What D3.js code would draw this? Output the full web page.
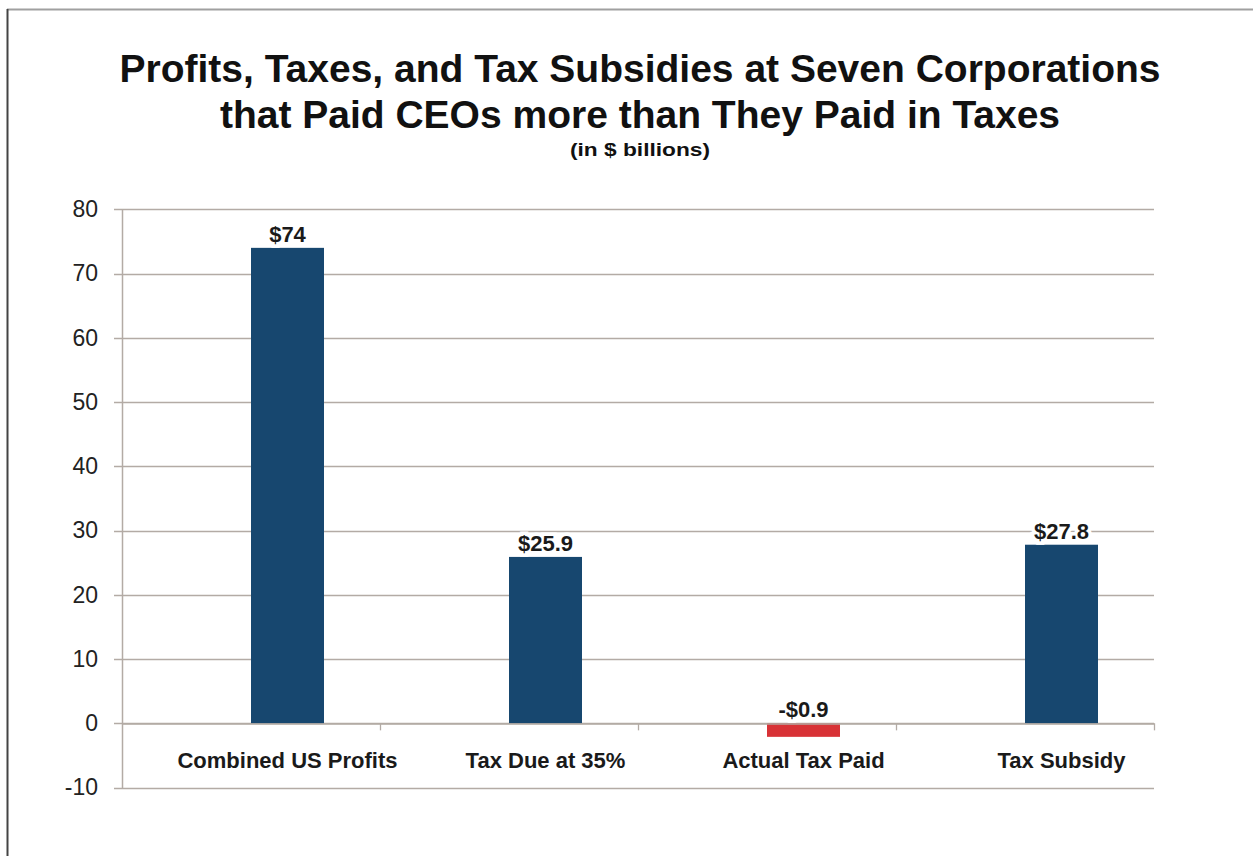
<!DOCTYPE html>
<html>
<head>
<meta charset="utf-8">
<script src="https://cdn.jsdelivr.net/npm/d3@7"></script>
<style>
html,body{margin:0;padding:0;background:#fff;}
svg{display:block;font-family:"Liberation Sans",Arial,sans-serif;}
</style>
</head>
<body>
<svg id="chart" width="1253" height="856"></svg>
<script>
const categories = ["Combined US Profits", "Tax Due at 35%", "Actual Tax Paid", "Tax Subsidy"];
const values = [74, 25.9, -2.1, 27.8];
const valueLabels = ["$74", "$25.9", "-$0.9", "$27.8"];
const barColors = ["#17476f", "#17476f", "#d83236", "#17476f"];
const yTicks = [-10, 0, 10, 20, 30, 40, 50, 60, 70, 80];
const titleLines = ["Profits, Taxes, and Tax Subsidies at Seven Corporations", "that Paid CEOs more than They Paid in Taxes"];
const subtitle = "(in $ billions)";

(function () {
const svg = d3.select("#chart");
const plotLeft = 122, plotRight = 1154, plotTop = 209.3, plotBottom = 787.6;

// frame
svg.append("line").attr("x1", 7).attr("x2", 1253).attr("y1", 9.5).attr("y2", 9.5).attr("stroke", "#a0a0a0").attr("stroke-width", 2);
svg.append("line").attr("x1", 7.5).attr("x2", 7.5).attr("y1", 9).attr("y2", 856).attr("stroke", "#444").attr("stroke-width", 2);

// title
svg.selectAll("text.title").data(titleLines).join("text")
  .attr("class", "title")
  .attr("x", 640).attr("y", (d, i) => 82 + i * 45.5)
  .attr("text-anchor", "middle")
  .attr("font-size", 39).attr("font-weight", "bold").attr("fill", "#111")
  .text(d => d);
svg.append("text").attr("x", 640).attr("y", 156).attr("text-anchor", "middle")
  .attr("font-size", 19).attr("font-weight", "bold").attr("fill", "#111")
  .attr("textLength", 140).attr("lengthAdjust", "spacingAndGlyphs").text(subtitle);

const y = d3.scaleLinear().domain([-10, 80]).range([plotBottom, plotTop]);
const x = d3.scaleBand().domain(categories).range([plotLeft, plotRight]).padding(0);
const bw = x.bandwidth();
const barW = 73;

// gridlines
const gridColor = "#b3aba5";
svg.append("g").selectAll("line").data(yTicks).join("line")
  .attr("x1", 114).attr("x2", plotRight)
  .attr("y1", d => Math.round(y(d)) + 0.5).attr("y2", d => Math.round(y(d)) + 0.5)
  .attr("stroke", gridColor).attr("stroke-width", 1.3);

// y axis
const yAxis = svg.append("g").attr("transform", `translate(${plotLeft},0)`)
  .call(d3.axisLeft(y).tickValues(yTicks).tickSize(0).tickPadding(24).tickFormat(d => String(d)));
yAxis.select(".domain").attr("stroke", gridColor).attr("stroke-width", 1.5);
yAxis.selectAll("text").attr("font-size", 23).attr("fill", "#222").attr("font-family", "Liberation Sans, Arial, sans-serif");

// bars
const data = categories.map((c, i) => ({c, v: values[i], label: valueLabels[i], color: barColors[i]}));
svg.append("g").selectAll("rect").data(data).join("rect")
  .attr("x", d => x(d.c) + bw / 2)
  .attr("width", barW)
  .attr("y", d => y(Math.max(0, d.v)))
  .attr("height", d => Math.abs(y(d.v) - y(0)))
  .attr("fill", d => d.color);

// x axis at zero
const xAxis = svg.append("g").attr("transform", `translate(0,${Math.round(y(0)) + 0.5})`)
  .call(d3.axisBottom(x).tickSize(0).tickFormat(""));
xAxis.select(".domain").attr("stroke", gridColor).attr("stroke-width", 1.5);
// category boundary ticks
const bounds = categories.map(c => x(c) + bw);
svg.append("g").selectAll("line").data(bounds).join("line")
  .attr("x1", d => Math.round(d) + 0.5).attr("x2", d => Math.round(d) + 0.5)
  .attr("y1", y(0)).attr("y2", y(0) + 7)
  .attr("stroke", gridColor).attr("stroke-width", 1.3);

// category labels
svg.append("g").selectAll("text").data(categories).join("text")
  .attr("x", d => x(d) + bw / 2 + barW / 2)
  .attr("y", 768)
  .attr("text-anchor", "middle")
  .attr("font-size", 22).attr("font-weight", "bold").attr("fill", "#1a1a1a")
  .text(d => d);

// value labels (white halo breaks gridlines like the reference)
svg.append("g").selectAll("text").data(data).join("text")
  .attr("x", d => x(d.c) + bw / 2 + barW / 2)
  .attr("y", d => y(Math.max(0, d.v)) - 6)
  .attr("text-anchor", "middle")
  .attr("font-size", 22).attr("font-weight", "bold").attr("fill", "#1a1a1a")
  .attr("stroke", "#fff").attr("stroke-width", 7).attr("paint-order", "stroke")
  .text(d => d.label);
})();
</script>
</body>
</html>
